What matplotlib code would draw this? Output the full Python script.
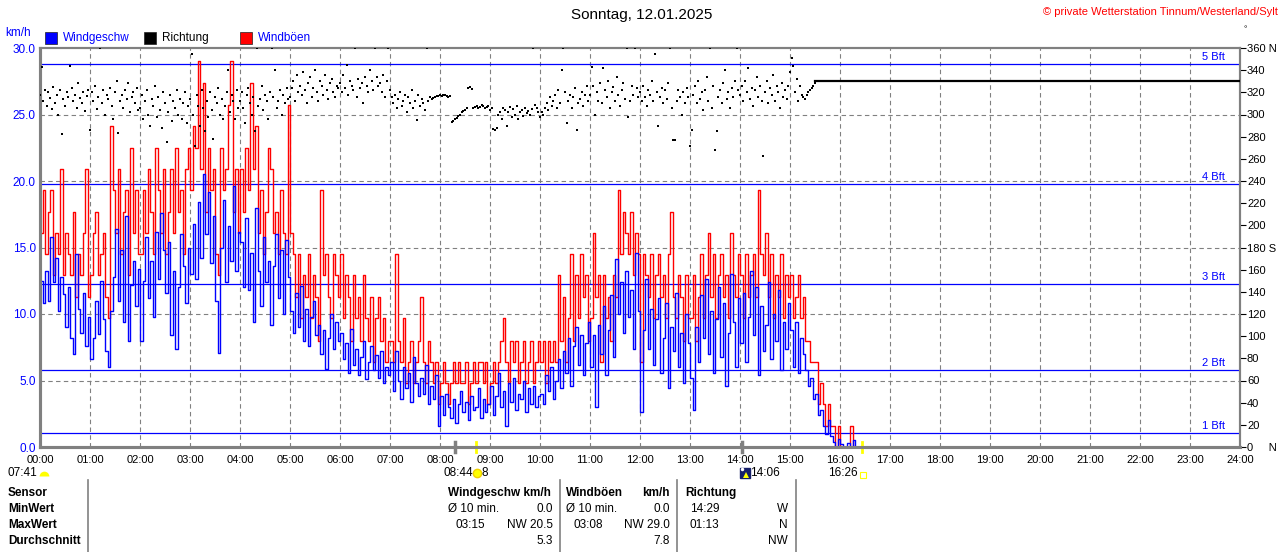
import numpy as np
import matplotlib.pyplot as plt
from matplotlib.lines import Line2D

plt.rcParams['font.family'] = ['Liberation Sans', 'DejaVu Sans']

W, H = 1280, 552

title = "Sonntag, 12.01.2025"
credit = "\u00a9 private Wetterstation Tinnum/Westerland/Sylt"

# wind speed and gusts, one value every 3 minutes from 00:00 (km/h)
wind_step_min = 3
wind_kmh = [
    12.5, 10.8, 13.2, 11.0, 15.8, 12.4, 14.2, 10.2, 12.8, 11.5, 9.0, 12.0, 8.2, 7.0, 14.5, 10.4, 8.6, 11.6, 7.6, 9.8,
    6.6, 8.2, 11.0, 8.5, 12.5, 9.6, 7.2, 6.0, 10.2, 12.8, 16.4, 11.0, 14.8, 9.4, 17.4, 8.0, 12.2, 14.0, 10.6, 13.4,
    8.0, 12.5, 15.8, 11.2, 14.0, 9.8, 16.2, 12.6, 17.6, 14.8, 11.6, 15.4, 8.4, 13.2, 7.4, 12.0, 16.0, 13.6, 10.8, 15.0,
    13.0, 16.8, 12.6, 18.4, 14.2, 20.5, 16.0, 19.2, 13.8, 17.4, 11.0, 7.1, 15.0, 18.6, 12.4, 16.6, 14.0, 19.6, 13.2, 16.2,
    15.4, 12.0, 17.2, 11.8, 14.6, 9.4, 18.0, 13.2, 10.6, 15.8, 12.4, 14.0, 9.2, 13.6, 16.0, 11.2, 14.8, 10.0, 15.6, 12.8,
    10.2, 8.6, 11.6, 9.0, 12.1, 8.0, 10.4, 7.6, 9.8, 11.0, 8.4, 9.2, 7.0, 8.8, 5.9, 8.2, 10.0, 7.4, 9.4, 8.0,
    8.6, 6.6, 7.8, 5.6, 8.9, 6.2, 7.4, 5.4, 6.8, 8.0, 5.1, 6.4, 7.6, 5.8, 6.9, 5.2, 7.2, 4.8, 6.0, 5.4,
    6.4, 4.2, 7.2, 5.0, 3.6, 6.0, 4.4, 5.6, 3.4, 6.8, 4.8, 3.8, 5.2, 4.0, 6.2, 3.2, 4.6, 3.6, 5.4, 1.6,
    3.8, 2.4, 4.0, 3.0, 2.2, 3.6, 1.8, 3.2, 4.2, 2.6, 3.4, 2.0, 3.8, 2.8, 3.0, 4.4, 2.2, 3.6, 2.6, 3.2,
    4.6, 2.4, 3.8, 5.6, 3.0, 4.2, 1.6, 4.8, 3.4, 5.2, 2.8, 4.0, 3.6, 5.0, 2.6, 4.4, 3.2, 4.6, 3.0, 3.8,
    4.0, 3.2, 5.4, 4.2, 6.0, 3.6, 5.0, 6.6, 4.4, 7.2, 5.6, 8.2, 4.6, 7.6, 9.0, 6.2, 8.4, 5.4, 7.8, 9.4,
    6.0, 8.4, 3.0, 9.2, 7.0, 10.6, 5.4, 8.8, 11.4, 6.8, 14.1, 10.0, 12.4, 8.6, 13.2, 9.8, 11.8, 7.4, 14.6, 10.2,
    2.6, 8.8, 12.6, 7.4, 10.4, 6.2, 9.6, 11.2, 5.6, 8.2, 10.8, 4.4, 9.0, 7.2, 11.6, 6.0, 8.6, 4.8, 10.0, 7.8,
    5.2, 2.8, 9.0, 6.4, 11.4, 8.2, 12.6, 7.0, 10.2, 5.6, 9.6, 12.0, 6.8, 10.8, 4.6, 8.6, 13.0, 9.4, 6.0, 11.2,
    7.8, 11.6, 6.4, 9.8, 13.2, 8.4, 12.0, 5.4, 10.6, 7.2, 9.2, 12.4, 6.6, 10.0, 8.0, 11.8, 5.8, 9.4, 7.4, 10.8,
    8.8, 6.0, 9.4, 5.6, 8.2, 7.0, 5.8, 4.6, 5.2, 3.6, 4.0, 2.4, 2.8, 1.6, 1.0, 2.0, 0.8, 0.4, 0.0, 0.6,
    0.2, 0.0, 0.0, 0.3, 0.0, 0.5, 0.0, 0.0, 0.0,
]
gust_kmh = [
    16.1, 19.3, 14.5, 17.7, 19.3, 12.9, 16.1, 14.5, 20.9, 12.9, 16.1, 14.5, 12.9, 17.7, 11.3, 14.5, 12.9, 16.1, 20.9, 11.3,
    12.9, 16.1, 17.7, 12.9, 14.5, 16.1, 11.3, 9.7, 24.1, 19.3, 16.1, 20.9, 14.5, 17.7, 19.3, 12.9, 22.5, 16.1, 19.3, 14.5,
    14.5, 19.3, 16.1, 20.9, 17.7, 14.5, 22.5, 19.3, 16.1, 20.9, 14.5, 17.7, 20.9, 16.1, 22.5, 17.7, 19.3, 14.5, 20.9, 22.5,
    19.3, 24.1, 22.5, 29.0, 20.9, 27.4, 17.7, 22.5, 19.3, 20.9, 14.5, 12.9, 22.5, 19.3, 20.9, 25.7, 29.0, 17.7, 20.9, 16.1,
    20.9, 17.7, 22.5, 19.3, 27.4, 20.9, 24.1, 16.1, 19.3, 14.5, 17.7, 22.5, 20.9, 16.1, 17.7, 14.5, 19.3, 16.1, 14.5, 25.7,
    16.1, 14.5, 11.3, 14.5, 9.7, 12.9, 11.3, 14.5, 9.7, 12.9, 11.3, 8.0, 19.3, 12.9, 14.5, 11.3, 9.7, 14.5, 12.9, 11.3,
    14.5, 9.7, 12.9, 11.3, 8.0, 12.9, 9.7, 11.3, 8.0, 12.9, 9.7, 8.0, 11.3, 6.4, 9.7, 11.3, 8.0, 9.7, 6.4, 8.0,
    8.0, 6.4, 14.5, 8.0, 6.4, 9.7, 4.8, 6.4, 8.0, 4.8, 6.4, 8.0, 11.3, 6.4, 4.8, 8.0, 6.4, 4.8, 6.4, 3.2,
    4.8, 6.4, 4.8, 3.2, 4.8, 6.4, 4.8, 6.4, 4.8, 4.8, 6.4, 3.2, 4.8, 6.4, 4.8, 6.4, 6.4, 4.8, 6.4, 3.2,
    4.8, 6.4, 4.8, 6.4, 8.0, 9.7, 6.4, 4.8, 8.0, 6.4, 8.0, 4.8, 6.4, 8.0, 4.8, 6.4, 8.0, 4.8, 6.4, 8.0,
    6.4, 8.0, 4.8, 8.0, 6.4, 8.0, 6.4, 12.9, 8.0, 11.3, 6.4, 9.7, 14.5, 8.0, 12.9, 9.7, 14.5, 11.3, 12.9, 8.0,
    9.7, 16.1, 11.3, 12.9, 6.4, 12.9, 9.7, 11.3, 8.0, 12.9, 11.3, 19.3, 14.5, 17.7, 16.1, 14.5, 17.7, 12.9, 16.1, 14.5,
    6.4, 14.5, 12.9, 11.3, 14.5, 9.7, 12.9, 14.5, 11.3, 12.9, 9.7, 14.5, 17.7, 11.3, 9.7, 12.9, 11.3, 8.0, 12.9, 9.7,
    9.7, 12.9, 8.0, 11.3, 14.5, 9.7, 12.9, 16.1, 11.3, 14.5, 9.7, 12.9, 14.5, 11.3, 12.9, 9.7, 16.1, 12.9, 11.3, 14.5,
    12.9, 9.7, 14.5, 11.3, 12.9, 14.5, 11.3, 19.3, 14.5, 12.9, 16.1, 11.3, 14.5, 9.7, 12.9, 11.3, 14.5, 9.7, 12.9, 11.3,
    12.9, 9.7, 11.3, 12.9, 9.7, 11.3, 8.0, 8.0, 6.4, 6.4, 6.4, 3.2, 4.8, 3.2, 1.6, 3.2, 1.6, 1.6, 0.0, 1.6,
    0.0, 0.0, 0.0, 0.0, 1.6, 0.0, 0.0, 0.0, 0.0,
]

# wind direction, one value every 2 minutes from 00:00 (degrees)
dir_step_min = 2
direction_deg = [
    318, 343, 312, 322, 308, 320, 315, 305, 325, 310, 318, 300, 322, 282, 314, 308, 320, 316, 344, 324, 312, 318, 306, 328, 315, 310, 320, 303, 317, 322,
    286, 320, 312, 326, 305, 316, 360, 310, 322, 300, 318, 314, 324, 308, 296, 320, 330, 283, 312, 318, 306, 322, 314, 328, 302, 316, 320, 310, 324, 304,
    306, 318, 296, 312, 322, 300, 290, 314, 308, 326, 298, 316, 304, 288, 320, 310, 275, 302, 318, 294, 312, 306, 322, 300, 314, 296, 310, 320, 292, 308,
    314, 355, 300, 272, 318, 308, 290, 322, 306, 285, 312, 298, 320, 304, 278, 316, 310, 324, 300, 314, 296, 308, 320, 340, 302, 318, 312, 296, 322, 306,
    312, 320, 306, 292, 318, 324, 310, 300, 316, 285, 360, 308, 314, 326, 304, 318, 312, 296, 320, 360, 316, 340, 306, 312, 322, 300, 318, 310, 324, 314,
    316, 324, 330, 312, 336, 320, 326, 318, 338, 322, 310, 328, 334, 316, 324, 340, 320, 312, 330, 326, 318, 336, 322, 314, 328, 332, 320, 316, 326, 324,
    328, 320, 336, 324, 345, 318, 330, 326, 322, 360, 316, 332, 324, 328, 310, 334, 326, 320, 340, 330, 322, 360, 334, 326, 328, 320, 336, 316, 330, 360,
    322, 316, 310, 318, 306, 314, 320, 308, 312, 318, 302, 316, 310, 322, 306, 312, 295, 318, 308, 314, 310, 304, 360, 312, 316, 314, 315, 316, 317, 317,
    318, 317, 318, 318, 317, 316, 317, 293, 294, 296, 297, 299, 300, 302, 303, 304, 306, 324, 325, 323, 306, 307, 308, 306, 307, 309, 308, 306, 307, 308,
    304, 306, 287, 286, 288, 300, 302, 296, 306, 304, 290, 302, 307, 298, 305, 300, 308, 296, 302, 304, 299, 306, 301, 303, 300, 305, 360, 309, 306, 302,
    298, 302, 300, 306, 310, 304, 316, 308, 312, 318, 306, 322, 310, 340, 360, 320, 292, 312, 318, 306, 316, 324, 286, 310, 314, 320, 308, 318, 326, 312,
    318, 343, 326, 300, 320, 312, 328, 310, 342, 322, 316, 330, 306, 320, 325, 312, 334, 318, 308, 322, 328, 314, 360, 298, 312, 326, 318, 360, 324, 316,
    320, 312, 326, 316, 308, 322, 318, 330, 312, 355, 320, 290, 316, 324, 310, 322, 314, 328, 360, 306, 277, 277, 312, 322, 316, 300, 320, 310, 324, 316,
    272, 286, 318, 326, 310, 330, 314, 320, 304, 322, 334, 312, 360, 306, 326, 268, 285, 316, 322, 310, 328, 340, 314, 320, 306, 324, 316, 330, 360, 322,
    318, 326, 312, 330, 320, 342, 314, 324, 308, 322, 334, 316, 326, 312, 263, 320, 330, 310, 324, 318, 336, 312, 326, 320, 306, 328, 316, 322, 314, 326,
    338, 351, 344, 320, 332, 312, 326, 318, 316, 314, 318, 320, 322, 324, 326, 328,
]
dir_hold_deg = 330  # direction stays at this value until midnight

bft_kmh = [1.08, 5.76, 12.24, 19.8, 28.8]
bft_names = ["1 Bft", "2 Bft", "3 Bft", "4 Bft", "5 Bft"]

speed_ticks = [0, 5, 10, 15, 20, 25, 30]
dir_ticks = list(range(0, 361, 20))
hour_labels = ["%02d:00" % h for h in range(25)]

# sun / moon events below the time axis
event_labels = ["07:41", "08:44", "14:06", "16:26"]
sun_marks = [8.72, 16.43]     # yellow marks on the axis
moon_marks = [8.30, 14.04]    # grey marks on the axis

table_rows = ["Sensor", "MinWert", "MaxWert", "Durchschnitt"]
speed_col = [["Windgeschw km/h", ""], ["\u00d8 10 min.", "0.0"], ["03:15", "NW 20.5"], ["", "5.3"]]
gust_col = [["Windb\u00f6en", "km/h"], ["\u00d8 10 min.", "0.0"], ["03:08", "NW 29.0"], ["", "7.8"]]
dir_col = [["Richtung", ""], ["14:29", "W"], ["01:13", "N"], ["", "NW"]]


def fx(x):
    return x / W


def fy(y):
    return 1 - y / H


BLUE = "#0000ff"
RED = "#ff0000"
GREY = "#808080"

fig = plt.figure(figsize=(W / 100, H / 100), dpi=100)
ax = fig.add_axes([fx(40), fy(447), 1200 / W, 399 / H])

t_wind = np.arange(len(wind_kmh)) * wind_step_min / 60
t_dir = np.arange(len(direction_deg)) * dir_step_min / 60

# grid
for h in range(1, 24):
    ax.axvline(h, color=GREY, lw=0.8, ls=(0, (4, 3)), zorder=1)
for v in [5, 10, 15, 20, 25]:
    ax.axhline(v, color=GREY, lw=0.8, ls=(0, (4, 3)), zorder=1)
for lvl, name in zip(bft_kmh, bft_names):
    ax.axhline(lvl, color=BLUE, lw=0.9, zorder=1.5)
    ax.text(23.7, lvl + 0.15, name, color=BLUE, fontsize=8, ha="right", va="bottom")

ax.plot(t_wind, gust_kmh, color=RED, lw=1.0, drawstyle="steps-post", zorder=2)
ax.plot(t_wind, wind_kmh, color=BLUE, lw=1.0, drawstyle="steps-post", zorder=3)

ax.set_xlim(0, 24)
ax.set_ylim(0, 30)
ax.set_xticks(range(25))
ax.set_xticklabels(hour_labels, fontsize=8)
ax.set_yticks(speed_ticks)
ax.set_yticklabels(["%.1f" % v for v in speed_ticks], color=BLUE, fontsize=8.5)
ax.tick_params(axis="x", length=0, pad=6)
ax.tick_params(axis="y", length=0, pad=3)

ax2 = ax.twinx()
ax2.plot(t_dir, direction_deg, ls="none", marker="s", ms=2.1, mew=0, color="black", zorder=4)
ax2.plot([t_dir[-1], 24], [dir_hold_deg, dir_hold_deg], color="black", lw=1.6, zorder=4)
ax2.set_ylim(0, 360)
ax2.set_yticks(dir_ticks)
dir_labels = [str(d) for d in dir_ticks]
dir_labels[0] = "0     N"
dir_labels[9] = "180 S"
dir_labels[-1] = "360 N"
ax2.set_yticklabels(dir_labels, fontsize=8)
ax2.tick_params(axis="y", length=4, width=0.8, color="black", pad=1)

for a in (ax, ax2):
    for s in a.spines.values():
        s.set_color(GREY)
    a.spines["left"].set_linewidth(2.2)
    a.spines["bottom"].set_linewidth(2.2)
    a.spines["top"].set_linewidth(1.5)
    a.spines["right"].set_linewidth(1.5)

# marks on the time axis
for m in sun_marks:
    ax.plot([m, m], [-0.35, 0.35], color="#ffff00", lw=2, clip_on=False, zorder=6)
for m in moon_marks:
    ax.plot([m, m], [-0.35, 0.35], color=GREY, lw=2.5, clip_on=False, zorder=6)

# header texts
fig.text(fx(642), fy(15), title, fontsize=11, ha="center", va="center")
fig.text(fx(1278), fy(12), credit, fontsize=8, color=RED, ha="right", va="center")
fig.text(fx(5), fy(33), "km/h", fontsize=8.5, color=BLUE, va="center")
fig.text(fx(1243), fy(30), "\u00b0", fontsize=6, va="center")

legend_items = [(51, "Windgeschw", BLUE, BLUE), (150, "Richtung", "black", "black"), (246, "Windb\u00f6en", RED, BLUE)]
for x, label, c, tc in legend_items:
    fig.add_artist(Line2D([fx(x)], [fy(38)], marker="s", ms=8, color=c, mec="#202020", mew=0.5))
    fig.text(fx(x + 12), fy(38), label, fontsize=8.5, color=tc, va="center")

# sun / moon event labels
fig.text(fx(8), fy(473), event_labels[0], fontsize=8.5, va="center")
fig.add_artist(Line2D([fx(44)], [fy(476)], marker="o", ms=7, fillstyle="top", mfc="#ffff00",
                      mfcalt="none", mec="none"))
fig.text(fx(443), fy(473), event_labels[1], fontsize=8.5, va="center")
fig.add_artist(Line2D([fx(477)], [fy(473)], marker="o", ms=6, color="#ffff00", mec="#f0d000"))
fig.text(fx(482), fy(473), "8", fontsize=8.5, va="center")
fig.add_artist(Line2D([fx(745)], [fy(473)], marker="s", ms=7.5, color="#16206a"))
fig.add_artist(Line2D([fx(746)], [fy(475)], marker="^", ms=4, color="#ffff00", mew=0))
fig.add_artist(Line2D([fx(742)], [fy(469)], marker="o", ms=2.5, color="white", mew=0))
fig.text(fx(750), fy(473), event_labels[2], fontsize=8.5, va="center")
fig.text(fx(828), fy(473), event_labels[3], fontsize=8.5, va="center")
fig.add_artist(Line2D([fx(863)], [fy(475)], marker="s", ms=4, mfc="none", mec="#ffff00", mew=0.8))

# statistics table
for x in [88, 560, 677, 796]:
    fig.add_artist(Line2D([fx(x), fx(x)], [fy(480), fy(552)], color=GREY, lw=1.2))

row_y = [493, 509, 525, 541]
for i, (y, name) in enumerate(zip(row_y, table_rows)):
    fig.text(fx(8), fy(y), name, fontsize=8.5, fontweight="bold", va="center")
    for col, x0, x1, xl in [(speed_col, 448, 553, 455), (gust_col, 566, 670, 573), (dir_col, 685, 788, 690)]:
        left, right = col[i]
        weight = "bold" if i == 0 else "normal"
        lx = x0 if (i == 0 or left.startswith("\u00d8")) else xl
        if left:
            fig.text(fx(lx), fy(y), left, fontsize=8.5, fontweight=weight, va="center")
        if right:
            fig.text(fx(x1), fy(y), right, fontsize=8.5, fontweight=weight, va="center", ha="right")

fig.savefig("out.png", dpi=100)
